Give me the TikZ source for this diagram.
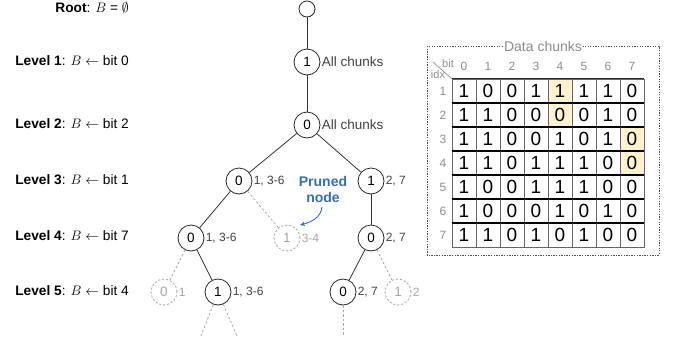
\RequirePackage{fix-cm}
\documentclass[tikz,border=0pt]{standalone}
\usepackage{fontspec}
\setmainfont{Liberation Sans}
\usetikzlibrary{arrows.meta}
\definecolor{pblue}{RGB}{52,110,180}
\definecolor{hl}{RGB}{255,242,204}
\definecolor{pgray}{RGB}{165,165,165}
\definecolor{lgray}{RGB}{64,64,64}
\newcommand{\fsz}[1]{\fontsize{#1}{#1}\selectfont}
\begin{document}
\begin{tikzpicture}[x=1pt,y=-1pt,
 tnode/.style={circle,draw=black!85,line width=0.8pt,minimum size=26pt,inner sep=0pt,font=\fsz{13.5}},
 pnode/.style={tnode,draw=pgray,dash pattern=on 2.2pt off 1.8pt,text=pgray},
 tedge/.style={draw=black!80,line width=0.8pt},
 pedge/.style={draw=pgray,dash pattern=on 2.5pt off 2pt,line width=0.7pt},
 nlab/.style={anchor=west,inner sep=1.2pt,text=lgray,font=\fsz{12}},
 plab/.style={nlab,text=pgray},
 lvl/.style={anchor=east,inner sep=0pt,font=\fsz{13.7}},
 cell/.style={draw=black!60,line width=0.7pt,minimum size=24pt,inner sep=0pt,font=\fsz{19}},
 hdr/.style={text=black!45,font=\fsz{12},inner sep=0pt},
]
\useasboundingbox (0,0) rectangle (677,341);

% level labels
\node[lvl] (L0) at (129,8) {\textbf{Root}: $B$ = $\emptyset$};
\node[lvl] (L1) at (129,61) {\textbf{Level 1}: $B\leftarrow$ bit 0};
\node[lvl] (L2) at (129,124) {\textbf{Level 2}: $B\leftarrow$ bit 2};
\node[lvl] (L3) at (129,180) {\textbf{Level 3}: $B\leftarrow$ bit 1};
\node[lvl] (L4) at (129,236) {\textbf{Level 4}: $B\leftarrow$ bit 7};
\node[lvl] (L5) at (129,291) {\textbf{Level 5}: $B\leftarrow$ bit 4};

% tree nodes
\node[tnode,minimum size=16pt] (n0) at (307,9) {};
\node[tnode] (n1) at (307,62) {1};
\node[tnode] (n2) at (307,125) {0};
\node[tnode] (n3l) at (239,181) {0};
\node[tnode] (n3r) at (371,181) {1};
\node[tnode] (n4l) at (191,238) {0};
\node[pnode] (n4p) at (287,238) {1};
\node[tnode] (n4r) at (371,238) {0};
\node[pnode] (n5a) at (164,292) {0};
\node[tnode] (n5b) at (218,292) {1};
\node[tnode] (n5c) at (343,292) {0};
\node[pnode] (n5d) at (398,292) {1};

% node labels
\node[nlab,font=\fsz{13.5}] (t1) at (n1.east) {All chunks};
\node[nlab,font=\fsz{13.5}] (t2) at (n2.east) {All chunks};
\node[nlab] (t3l) at (n3l.east) {1, 3-6};
\node[nlab] (t3r) at (n3r.east) {2, 7};
\node[nlab] (t4l) at (n4l.east) {1, 3-6};
\node[plab] (t4p) at (n4p.east) {3-4};
\node[nlab] (t4r) at (n4r.east) {2, 7};
\node[plab] (t5a) at (n5a.east) {1};
\node[nlab] (t5b) at (n5b.east) {1, 3-6};
\node[nlab] (t5c) at (n5c.east) {2, 7};
\node[plab] (t5d) at (n5d.east) {2};

% edges
\draw[tedge] (n0) -- (n1);
\draw[tedge] (n1) -- (n2);
\draw[tedge] (n2) -- (n3l);
\draw[tedge] (n2) -- (n3r);
\draw[tedge] (n3l) -- (n4l);
\draw[pedge] (n3l) -- (n4p);
\draw[tedge] (n3r) -- (n4r);
\draw[pedge] (n4l) -- (n5a);
\draw[tedge] (n4l) -- (n5b);
\draw[tedge] (n4r) -- (n5c);
\draw[pedge] (n4r) -- (n5d);
\coordinate (d1) at (201,336);
\coordinate (d2) at (237,336);
\coordinate (d3) at (343,336);
\draw[pedge] (n5b) -- (d1);
\draw[pedge] (n5b) -- (d2);
\draw[pedge] (n5c) -- (d3);

% pruned annotation
\node[font=\bfseries\fontsize{14}{16}\selectfont,text=pblue,align=center,inner sep=0pt] (pr) at (323,189) {Pruned\\node};
\coordinate (ptip) at (300,225);
\draw[pblue,line width=0.9pt,-{Stealth[length=5pt,width=4.5pt]}] (322,207) .. controls (321,217) and (312,222) .. (ptip);

% data chunks box
\draw[black!70,line width=0.8pt,dash pattern=on 1.3pt off 1.3pt] (427,46) rectangle (659,255);
\node[fill=white,text=black!45,font=\fsz{14},inner sep=1pt] (dt) at (543,46) {Data chunks};

% column headers
\foreach \c in {0,...,7} {
  \node[hdr] (h\c) at (464+24*\c,66) {\c};
}
% table
\foreach \r/\data in {1/{1,0,0,1,1,1,1,0},2/{1,1,0,0,0,0,1,0},3/{1,1,0,0,1,0,1,0},4/{1,1,0,1,1,1,0,0},5/{1,0,0,1,1,1,0,0},6/{1,0,0,0,1,0,1,0},7/{1,1,0,1,0,1,0,0}} {
  \node[hdr] (r\r) at (443,91+24*\r-24) {\r};
  \foreach \v [count=\i from 0] in \data {
    \node[cell] (c-\r-\i) at (464+24*\i,91+24*\r-24) {\v};
  }
}
% highlights (redraw with fill)
\foreach \r/\i/\v in {1/4/1,2/4/0,3/7/0,4/7/0} {
  \node[cell,fill=hl] at (c-\r-\i) {\v};
}
% thick row separators
\foreach \r in {1,...,6} {
  \draw[black,line width=2pt] (c-\r-0.south west) -- (c-\r-7.south east);
}
\draw[black!85,line width=1.1pt] (c-1-0.north west) -- (c-1-7.north east);
% corner header
\coordinate (dg) at (433,62);
\draw[black!50,line width=0.6pt] (dg) -- (c-1-0.north west);
\node[hdr,font=\fsz{11}] (bit) at (448,63.5) {bit};
\node[hdr,font=\fsz{11}] (idx) at (438,75) {idx};
\end{tikzpicture}
\end{document}
